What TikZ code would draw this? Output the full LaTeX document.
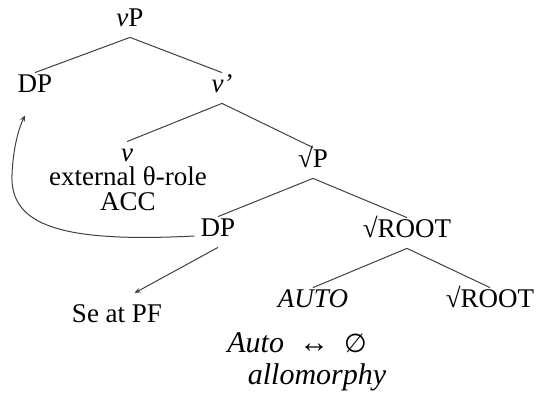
\documentclass[tikz,border=0pt]{standalone}
\usepackage{fontspec}
\setmainfont{Liberation Serif}
\newfontfamily\symfont{DejaVu Sans}
\usepackage{tikz}
\usetikzlibrary{arrows.meta,positioning,calc}
\tikzset{
  cat/.style={
    font=\fontsize{13.5}{14}\selectfont, inner sep=3pt,
    text height=0.7em, text depth=0.2em
  },
  note/.style={cat, font=\fontsize{15}{16}\selectfont\itshape},
  branch/.style={draw=black!75, line width=0.5pt},
  movearrow/.style={-{Stealth[length=3pt,width=2.5pt]}, draw=black!75, line width=0.5pt},
}

\begin{document}
\begin{tikzpicture}[x=0.5pt, y=-0.5pt]
  \useasboundingbox (0,0) rectangle (538,400);
  % upper part
  \node (vP)   [cat] at (130,22)  {\textit{v}P};
  \node (DPa)  [cat] at (35,88)   {DP};
  \node (vbar) [cat] at (222,88)  {\textit{v’}};
  \node (v)    [cat] at (127,157) {\textit{v}};
  \node (theta)[cat] at (128,181) {external θ-role};
  \node (acc)  [cat] at (128,206) {ACC};
  \node (rP)   [cat] at (313,163) {√P};
  % lower part
  \node (DPb)  [cat] at (218,232) {DP};
  \node (rootA)[cat] at (407,233) {√ROOT};
  \node (auto) [cat] at (313,303) {\textit{AUTO}};
  \node (rootB)[cat] at (490,303) {√ROOT};
  \node (vi)   [note] at (297,348) {Auto\enspace{\upshape↔}\enspace{\symfont\upshape\fontsize{13}{14}\selectfont ∅}};
  \node (allo) [note] at (317,380) {allomorphy};
  \node (sepf) [cat] at (117,318) {Se at PF};
  \draw[branch] (vP.south)--(DPa.north); \draw[branch] (vP.south)--(vbar.north);
  \draw[branch] (vbar.south)--(v.north); \draw[branch] (vbar.south)--(rP.north);
  \draw[branch] (rP.south)--(DPb.north); \draw[branch] (rP.south)--(rootA.north);
  \draw[branch] (rootA.south)--(auto.north); \draw[branch] (rootA.south)--(rootB.north);
  % movement arrows
  \draw[movearrow, shorten >=10pt] (DPb.south)--(sepf.north);
  \coordinate (bend) at (12,175);
  \coordinate (dptip) at ($(DPa.south)+(-10,12)$);
  \draw[movearrow] ($(DPb.west)+(0,4)$) .. controls (60,243) and (10,225) .. (bend)
    .. controls (13,150) and (18,130) .. (dptip);
\end{tikzpicture}
\end{document}
